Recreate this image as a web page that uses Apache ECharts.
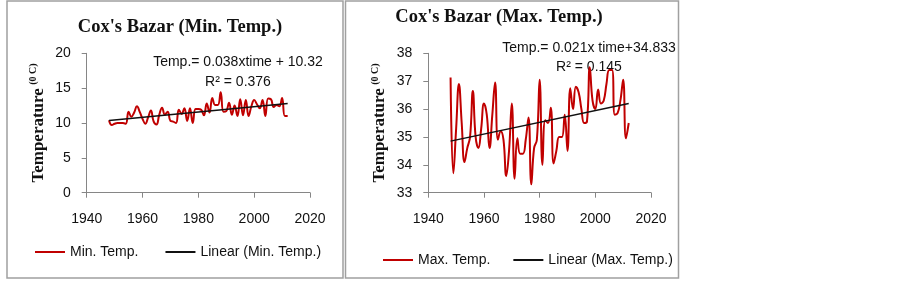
<!DOCTYPE html>
<html>
<head>
<meta charset="utf-8">
<script src="https://cdn.jsdelivr.net/npm/echarts@6/dist/echarts.min.js"></script>
<style>
html,body{margin:0;padding:0;background:#fff;}
#c{width:903px;height:282px;}
</style>
</head>
<body>
<div id="c"></div>
<script>
var years = [1948,1949,1950,1951,1952,1953,1954,1955,1956,1957,1958,1959,1960,1961,1962,1963,1964,1965,1966,1967,1968,1969,1970,1971,1972,1973,1974,1975,1976,1977,1978,1979,1980,1981,1982,1983,1984,1985,1986,1987,1988,1989,1990,1991,1992,1993,1994,1995,1996,1997,1998,1999,2000,2001,2002,2003,2004,2005,2006,2007,2008,2009,2010,2011,2012];
var minTemp = [10.4,9.7,9.9,10.0,10.0,10.0,9.9,11.6,10.9,11.5,12.4,11.6,10.6,9.9,10.8,11.8,10.2,9.8,11.2,12.2,11.2,11.6,10.3,10.2,10.0,11.9,11.3,12.1,10.3,12.1,10.0,12.0,12.0,11.9,11.1,12.8,11.5,13.6,12.6,12.6,14.4,11.6,11.7,12.9,11.2,12.5,11.0,13.4,11.1,13.3,11.0,12.4,13.3,12.7,12.1,13.3,11.0,13.5,13.4,12.3,12.6,12.4,13.6,11.0,11.0];
var maxTemp = [37.13,33.7,35.3,36.9,35.5,34.1,34.6,35.0,36.65,35.0,34.6,35.3,36.2,35.8,34.6,35.8,36.95,34.9,35.2,34.9,33.6,34.5,36.2,33.5,34.95,34.4,34.4,34.9,35.7,33.3,34.6,34.9,37.05,34.0,35.6,35.5,36.05,34.05,34.5,35.0,35.0,35.8,34.5,36.75,36.0,36.8,36.6,36.0,35.5,35.55,37.5,36.3,36.0,36.7,36.2,36.3,36.9,37.4,37.4,35.8,35.85,36.3,37.05,34.95,35.5];
var trendMinEnds = [[1948,10.36],[2012,12.79]];
var trendMaxEnds = [[1948,34.85],[2012,36.20]];
var xTicks = {min:1940, max:2020, interval:20};
var yMinTicks = {min:0, max:20, interval:5};
var yMaxTicks = {min:33, max:38, interval:1};
var titles = ["Cox's Bazar (Min. Temp.)", "Cox's Bazar (Max. Temp.)"];
var seriesNames = ['Min. Temp.', 'Linear (Min. Temp.)', 'Max. Temp.', 'Linear (Max. Temp.)'];
var equations = ['Temp.= 0.038xtime + 10.32', 'R\u00b2 = 0.376', 'Temp.= 0.021x time+34.833', 'R\u00b2 = 0.145'];

function pairs(xs, ys){ return xs.map(function(x,i){ return [x, ys[i]]; }); }

var chart = echarts.init(document.getElementById('c'), null, {renderer:'canvas'});
var sans = 'Liberation Sans';
var serif = 'Liberation Serif';
var axisCol = '#868686';
var red = '#c00000';

function xAx(gi){
  return {type:'value', gridIndex:gi, min:xTicks.min, max:xTicks.max, interval:xTicks.interval,
    axisLine:{show:true, lineStyle:{color:axisCol, width:1}},
    axisTick:{show:true, length:5, lineStyle:{color:axisCol}},
    splitLine:{show:false},
    axisLabel:{color:'#111', fontFamily:sans, fontSize:14, margin:19, formatter:function(v){return String(v);}}};
}
function yAx(gi, t){
  return {type:'value', gridIndex:gi, min:t.min, max:t.max, interval:t.interval,
    name:'{a|Temperature} {b|(0 C)}', nameLocation:'middle', nameGap:39, nameRotate:90,
    nameTextStyle:{rich:{
      a:{fontFamily:serif, fontWeight:'bold', fontSize:17, color:'#111'},
      b:{fontFamily:serif, fontWeight:'bold', fontSize:10, color:'#111', padding:[0,0,9,0]}
    }},
    axisLine:{show:true, lineStyle:{color:axisCol, width:1}},
    axisTick:{show:true, length:5, lineStyle:{color:axisCol}},
    splitLine:{show:false},
    axisLabel:{color:'#111', fontFamily:sans, fontSize:14, margin:16}};
}

var option = {
  animation:false,
  backgroundColor:'#fff',
  title:[
    {text:titles[0], left:175, top:13, textAlign:'center', textStyle:{fontFamily:serif, fontWeight:'bold', fontSize:18.5, color:'#111'}},
    {text:titles[1], left:494, top:3, textAlign:'center', textStyle:{fontFamily:serif, fontWeight:'bold', fontSize:18.5, color:'#111'}}
  ],
  grid:[
    {left:86.7, top:53.3, width:223.3, height:139.4},
    {left:428.3, top:53.3, width:222.7, height:139.4}
  ],
  xAxis:[xAx(0), xAx(1)],
  yAxis:[yAx(0, yMinTicks), yAx(1, yMaxTicks)],
  legend:[
    {data:[{name:seriesNames[0], icon:'rect'},{name:seriesNames[1], icon:'rect'}], left:30, top:240, itemWidth:30, itemHeight:2, itemGap:27,
     textStyle:{fontFamily:sans, fontSize:14, color:'#111'}},
    {data:[{name:seriesNames[2], icon:'rect'},{name:seriesNames[3], icon:'rect'}], left:378, top:248, itemWidth:30, itemHeight:2, itemGap:23,
     textStyle:{fontFamily:sans, fontSize:14, color:'#111'}}
  ],
  graphic:[
    {type:'rect', shape:{x:7, y:1, width:336, height:277}, style:{fill:'none', stroke:'#a0a0a0', lineWidth:1.5}, silent:true},
    {type:'rect', shape:{x:345.5, y:1, width:333, height:277}, style:{fill:'none', stroke:'#a0a0a0', lineWidth:1.5}, silent:true},
    {type:'text', x:238, y:62, style:{text:equations[0], font:'14px "Liberation Sans"', fill:'#111', textAlign:'center', textVerticalAlign:'middle'}},
    {type:'text', x:238, y:82, style:{text:equations[1], font:'14px "Liberation Sans"', fill:'#111', textAlign:'center', textVerticalAlign:'middle'}},
    {type:'text', x:589, y:48, style:{text:equations[2], font:'14px "Liberation Sans"', fill:'#111', textAlign:'center', textVerticalAlign:'middle'}},
    {type:'text', x:589, y:67, style:{text:equations[3], font:'14px "Liberation Sans"', fill:'#111', textAlign:'center', textVerticalAlign:'middle'}}
  ],
  series:[
    {name:seriesNames[0], type:'line', xAxisIndex:0, yAxisIndex:0, data:pairs(years, minTemp), smooth:0.45, showSymbol:false, symbol:'none', lineStyle:{color:red, width:2}, itemStyle:{color:red}, z:2},
    {name:seriesNames[1], type:'line', xAxisIndex:0, yAxisIndex:0, data:trendMinEnds, showSymbol:false, symbol:'none', lineStyle:{color:'#111', width:1.4}, itemStyle:{color:'#111'}, z:3},
    {name:seriesNames[2], type:'line', xAxisIndex:1, yAxisIndex:1, data:pairs(years, maxTemp), smooth:0.45, showSymbol:false, symbol:'none', lineStyle:{color:red, width:2}, itemStyle:{color:red}, z:2},
    {name:seriesNames[3], type:'line', xAxisIndex:1, yAxisIndex:1, data:trendMaxEnds, showSymbol:false, symbol:'none', lineStyle:{color:'#111', width:1.4}, itemStyle:{color:'#111'}, z:3}
  ]
};
chart.setOption(option);
</script>
</body>
</html>
